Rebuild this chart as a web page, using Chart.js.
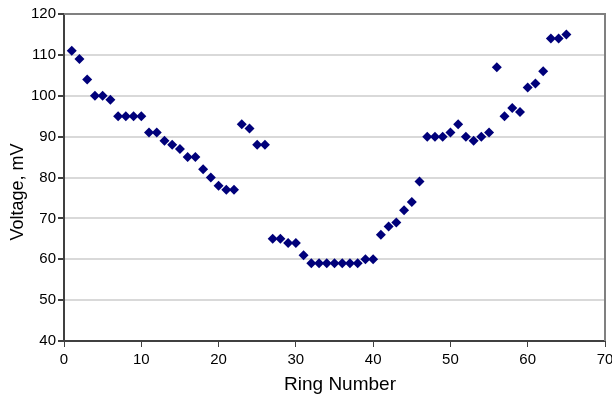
<!DOCTYPE html>
<html>
<head>
<meta charset="utf-8">
<script src="https://cdn.jsdelivr.net/npm/chart.js@4/dist/chart.umd.min.js"></script>
<style>
html,body{margin:0;padding:0;background:#fff;}
#c{display:block;}
</style>
</head>
<body>
<canvas id="c" width="612" height="396"></canvas>
<script>
const ringNumbers = [1,2,3,4,5,6,7,8,9,10,11,12,13,14,15,16,17,18,19,20,21,22,23,24,25,26,27,28,29,30,31,32,33,34,35,36,37,38,39,40,41,42,43,44,45,46,47,48,49,50,51,52,53,54,55,56,57,58,59,60,61,62,63,64,65];
const voltages = [111,109,104,100,100,99,95,95,95,95,91,91,89,88,87,85,85,82,80,78,77,77,93,92,88,88,65,65,64,64,61,59,59,59,59,59,59,59,60,60,66,68,69,72,74,79,90,90,90,91,93,90,89,90,91,107,95,97,96,102,103,106,114,114,115];
const xTicks = [0,10,20,30,40,50,60,70];
const yTicks = [40,50,60,70,80,90,100,110,120];
const xTitle = 'Ring Number';
const yTitle = 'Voltage, mV';

const points = ringNumbers.map((r,i)=>({x:r,y:voltages[i]}));

const frame = {
  id:'frame',
  afterDraw(chart){
    const a = chart.chartArea, ctx = chart.ctx;
    ctx.save();
    ctx.strokeStyle = '#808080';
    ctx.lineWidth = 2;
    ctx.beginPath();
    ctx.moveTo(a.left, a.top);
    ctx.lineTo(a.right, a.top);
    ctx.lineTo(a.right, a.bottom);
    ctx.stroke();
    // axis titles
    ctx.fillStyle = '#000';
    ctx.textAlign = 'center';
    ctx.textBaseline = 'alphabetic';
    ctx.font = '19px "Liberation Sans"';
    ctx.fillText(xTitle, 340, 390);
    ctx.font = '18px "Liberation Sans"';
    ctx.translate(23, 192);
    ctx.rotate(-Math.PI/2);
    ctx.fillText(yTitle, 0, 0);
    ctx.restore();
  }
};

new Chart(document.getElementById('c'), {
  type:'scatter',
  data:{datasets:[{
    data:points,
    pointStyle:'rectRot',
    pointRadius:5,
    pointHoverRadius:5,
    backgroundColor:'#00007a',
    borderColor:'#00007a',
    borderWidth:0
  }]},
  options:{
    responsive:false,
    animation:false,
    devicePixelRatio:1,
    layout:{padding:{top:14,right:7,left:0,bottom:0}},
    plugins:{legend:{display:false},tooltip:{enabled:false}},
    scales:{
      x:{
        type:'linear',min:0,max:70,
        afterBuildTicks(s){s.ticks = xTicks.map(v=>({value:v}));},
        afterFit(s){s.height = 55; s.paddingLeft = 0; s.paddingRight = 0;},
        grid:{display:true,drawOnChartArea:false,drawTicks:true,tickLength:6,color:'#404040'},
        border:{display:true,color:'#404040',width:2},
        ticks:{color:'#000',font:{family:'Liberation Sans',size:15},padding:4,maxRotation:0},
        title:{display:false,text:xTitle}
      },
      y:{
        type:'linear',min:40,max:120,
        afterBuildTicks(s){s.ticks = yTicks.map(v=>({value:v}));},
        afterFit(s){s.width = 64; s.paddingTop = 0; s.paddingBottom = 0;},
        grid:{color:'#d9d9d9',lineWidth:2,drawTicks:true,tickLength:6,tickColor:'#404040'},
        border:{display:true,color:'#404040',width:2},
        ticks:{color:'#000',font:{family:'Liberation Sans',size:15},padding:2},
        title:{display:false,text:yTitle}
      }
    }
  },
  plugins:[frame]
});
</script>
</body>
</html>
